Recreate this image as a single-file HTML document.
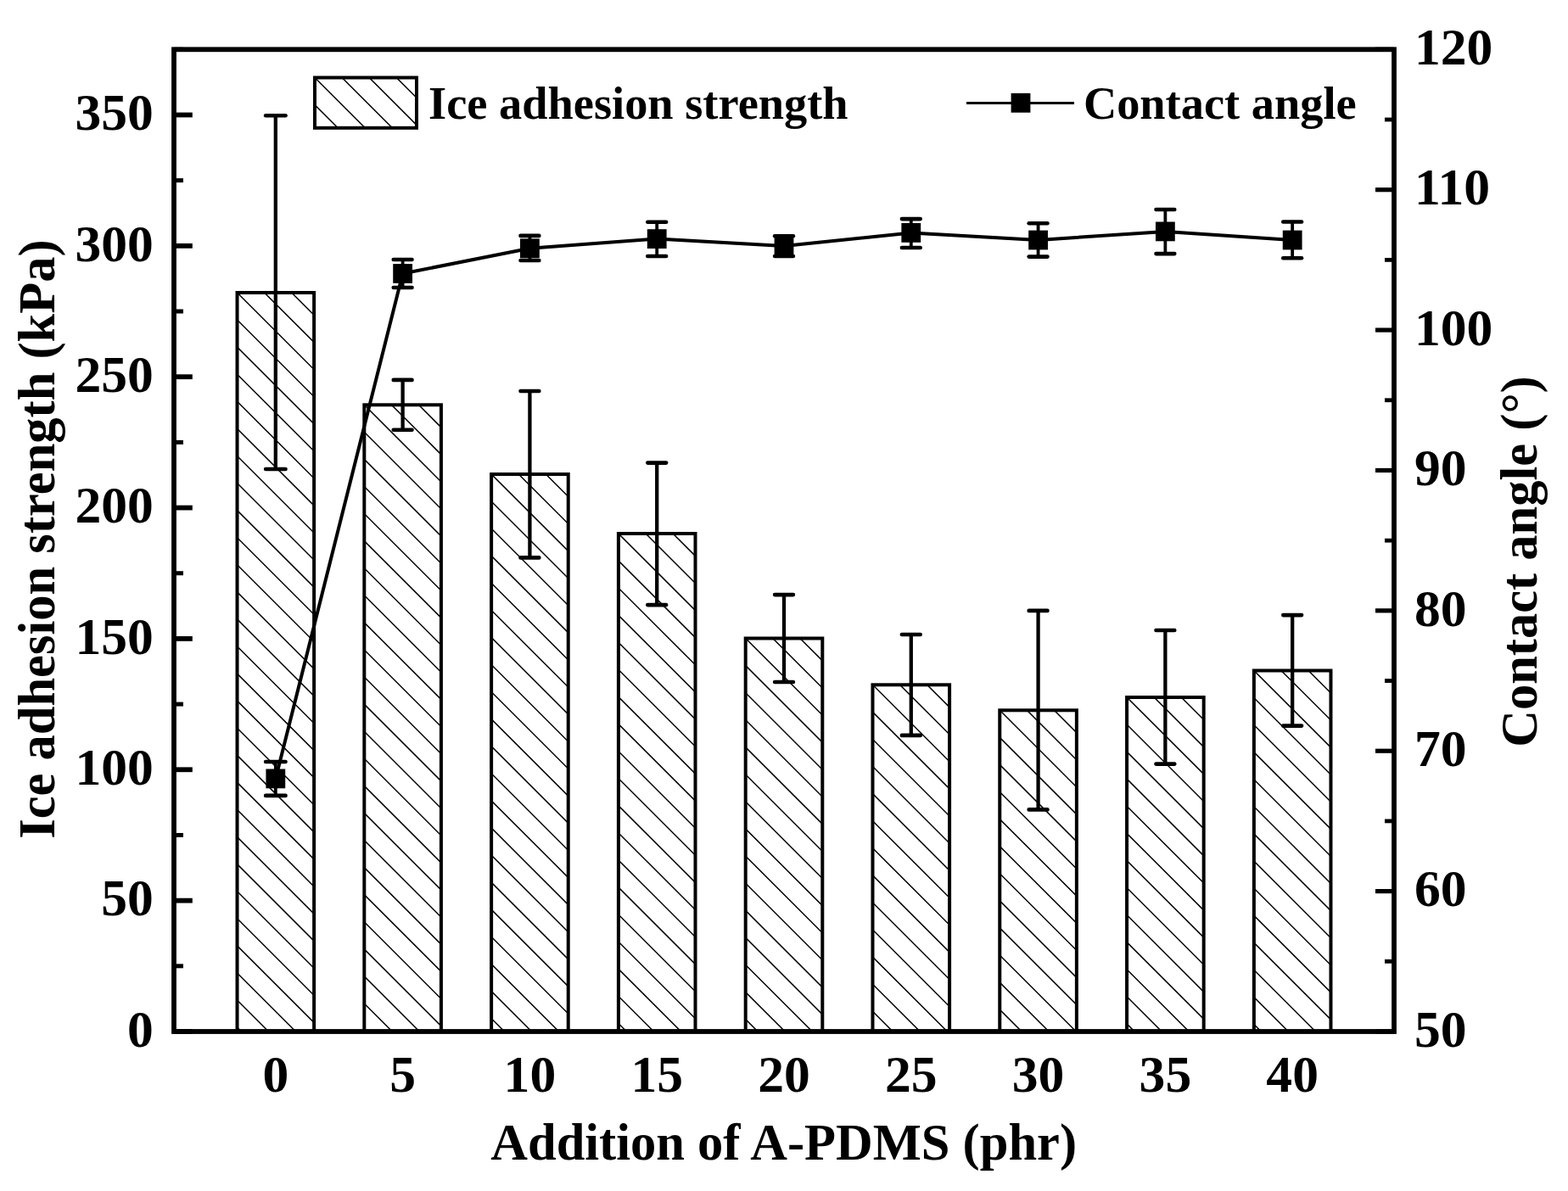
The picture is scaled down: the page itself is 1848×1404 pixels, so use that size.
<!DOCTYPE html>
<html><head><meta charset="utf-8"><title>Ice adhesion strength and contact angle</title>
<style>html,body{margin:0;padding:0;background:#fff;}svg{display:block;}</style></head>
<body>
<svg width="1848" height="1404" viewBox="0 0 1848 1404">
<rect x="0" y="0" width="1848" height="1404" fill="#fff"/>
<clipPath id="c0"><rect x="279.53" y="345.00" width="90.60" height="871.00"/></clipPath><path clip-path="url(#c0)" d="M274.53 211.68L375.13 312.28M274.53 243.76L375.13 344.36M274.53 275.84L375.13 376.44M274.53 307.92L375.13 408.52M274.53 340.00L375.13 440.60M274.53 372.08L375.13 472.68M274.53 404.16L375.13 504.76M274.53 436.24L375.13 536.84M274.53 468.32L375.13 568.92M274.53 500.40L375.13 601.00M274.53 532.48L375.13 633.08M274.53 564.56L375.13 665.16M274.53 596.64L375.13 697.24M274.53 628.72L375.13 729.32M274.53 660.80L375.13 761.40M274.53 692.88L375.13 793.48M274.53 724.96L375.13 825.56M274.53 757.04L375.13 857.64M274.53 789.12L375.13 889.72M274.53 821.20L375.13 921.80M274.53 853.28L375.13 953.88M274.53 885.36L375.13 985.96M274.53 917.44L375.13 1018.04M274.53 949.52L375.13 1050.12M274.53 981.60L375.13 1082.20M274.53 1013.68L375.13 1114.28M274.53 1045.76L375.13 1146.36M274.53 1077.84L375.13 1178.44M274.53 1109.92L375.13 1210.52M274.53 1142.00L375.13 1242.60M274.53 1174.08L375.13 1274.68M274.53 1206.16L375.13 1306.76M274.53 1238.24L375.13 1338.84M274.53 1270.32L375.13 1370.92" stroke="#000" stroke-width="1.5" fill="none"/>
<rect x="279.53" y="345.00" width="90.60" height="871.00" fill="none" stroke="#000" stroke-width="4.0"/>
<clipPath id="c1"><rect x="429.32" y="477.30" width="90.60" height="738.70"/></clipPath><path clip-path="url(#c1)" d="M424.32 343.98L524.92 444.58M424.32 376.06L524.92 476.66M424.32 408.14L524.92 508.74M424.32 440.22L524.92 540.82M424.32 472.30L524.92 572.90M424.32 504.38L524.92 604.98M424.32 536.46L524.92 637.06M424.32 568.54L524.92 669.14M424.32 600.62L524.92 701.22M424.32 632.70L524.92 733.30M424.32 664.78L524.92 765.38M424.32 696.86L524.92 797.46M424.32 728.94L524.92 829.54M424.32 761.02L524.92 861.62M424.32 793.10L524.92 893.70M424.32 825.18L524.92 925.78M424.32 857.26L524.92 957.86M424.32 889.34L524.92 989.94M424.32 921.42L524.92 1022.02M424.32 953.50L524.92 1054.10M424.32 985.58L524.92 1086.18M424.32 1017.66L524.92 1118.26M424.32 1049.74L524.92 1150.34M424.32 1081.82L524.92 1182.42M424.32 1113.90L524.92 1214.50M424.32 1145.98L524.92 1246.58M424.32 1178.06L524.92 1278.66M424.32 1210.14L524.92 1310.74M424.32 1242.22L524.92 1342.82M424.32 1274.30L524.92 1374.90" stroke="#000" stroke-width="1.5" fill="none"/>
<rect x="429.32" y="477.30" width="90.60" height="738.70" fill="none" stroke="#000" stroke-width="4.0"/>
<clipPath id="c2"><rect x="579.12" y="559.00" width="90.60" height="657.00"/></clipPath><path clip-path="url(#c2)" d="M574.12 425.68L674.72 526.28M574.12 457.76L674.72 558.36M574.12 489.84L674.72 590.44M574.12 521.92L674.72 622.52M574.12 554.00L674.72 654.60M574.12 586.08L674.72 686.68M574.12 618.16L674.72 718.76M574.12 650.24L674.72 750.84M574.12 682.32L674.72 782.92M574.12 714.40L674.72 815.00M574.12 746.48L674.72 847.08M574.12 778.56L674.72 879.16M574.12 810.64L674.72 911.24M574.12 842.72L674.72 943.32M574.12 874.80L674.72 975.40M574.12 906.88L674.72 1007.48M574.12 938.96L674.72 1039.56M574.12 971.04L674.72 1071.64M574.12 1003.12L674.72 1103.72M574.12 1035.20L674.72 1135.80M574.12 1067.28L674.72 1167.88M574.12 1099.36L674.72 1199.96M574.12 1131.44L674.72 1232.04M574.12 1163.52L674.72 1264.12M574.12 1195.60L674.72 1296.20M574.12 1227.68L674.72 1328.28M574.12 1259.76L674.72 1360.36" stroke="#000" stroke-width="1.5" fill="none"/>
<rect x="579.12" y="559.00" width="90.60" height="657.00" fill="none" stroke="#000" stroke-width="4.0"/>
<clipPath id="c3"><rect x="728.91" y="629.00" width="90.60" height="587.00"/></clipPath><path clip-path="url(#c3)" d="M723.91 495.68L824.51 596.28M723.91 527.76L824.51 628.36M723.91 559.84L824.51 660.44M723.91 591.92L824.51 692.52M723.91 624.00L824.51 724.60M723.91 656.08L824.51 756.68M723.91 688.16L824.51 788.76M723.91 720.24L824.51 820.84M723.91 752.32L824.51 852.92M723.91 784.40L824.51 885.00M723.91 816.48L824.51 917.08M723.91 848.56L824.51 949.16M723.91 880.64L824.51 981.24M723.91 912.72L824.51 1013.32M723.91 944.80L824.51 1045.40M723.91 976.88L824.51 1077.48M723.91 1008.96L824.51 1109.56M723.91 1041.04L824.51 1141.64M723.91 1073.12L824.51 1173.72M723.91 1105.20L824.51 1205.80M723.91 1137.28L824.51 1237.88M723.91 1169.36L824.51 1269.96M723.91 1201.44L824.51 1302.04M723.91 1233.52L824.51 1334.12M723.91 1265.60L824.51 1366.20" stroke="#000" stroke-width="1.5" fill="none"/>
<rect x="728.91" y="629.00" width="90.60" height="587.00" fill="none" stroke="#000" stroke-width="4.0"/>
<clipPath id="c4"><rect x="878.70" y="752.50" width="90.60" height="463.50"/></clipPath><path clip-path="url(#c4)" d="M873.70 619.18L974.30 719.78M873.70 651.26L974.30 751.86M873.70 683.34L974.30 783.94M873.70 715.42L974.30 816.02M873.70 747.50L974.30 848.10M873.70 779.58L974.30 880.18M873.70 811.66L974.30 912.26M873.70 843.74L974.30 944.34M873.70 875.82L974.30 976.42M873.70 907.90L974.30 1008.50M873.70 939.98L974.30 1040.58M873.70 972.06L974.30 1072.66M873.70 1004.14L974.30 1104.74M873.70 1036.22L974.30 1136.82M873.70 1068.30L974.30 1168.90M873.70 1100.38L974.30 1200.98M873.70 1132.46L974.30 1233.06M873.70 1164.54L974.30 1265.14M873.70 1196.62L974.30 1297.22M873.70 1228.70L974.30 1329.30M873.70 1260.78L974.30 1361.38" stroke="#000" stroke-width="1.5" fill="none"/>
<rect x="878.70" y="752.50" width="90.60" height="463.50" fill="none" stroke="#000" stroke-width="4.0"/>
<clipPath id="c5"><rect x="1028.49" y="807.30" width="90.60" height="408.70"/></clipPath><path clip-path="url(#c5)" d="M1023.49 673.98L1124.09 774.58M1023.49 706.06L1124.09 806.66M1023.49 738.14L1124.09 838.74M1023.49 770.22L1124.09 870.82M1023.49 802.30L1124.09 902.90M1023.49 834.38L1124.09 934.98M1023.49 866.46L1124.09 967.06M1023.49 898.54L1124.09 999.14M1023.49 930.62L1124.09 1031.22M1023.49 962.70L1124.09 1063.30M1023.49 994.78L1124.09 1095.38M1023.49 1026.86L1124.09 1127.46M1023.49 1058.94L1124.09 1159.54M1023.49 1091.02L1124.09 1191.62M1023.49 1123.10L1124.09 1223.70M1023.49 1155.18L1124.09 1255.78M1023.49 1187.26L1124.09 1287.86M1023.49 1219.34L1124.09 1319.94M1023.49 1251.42L1124.09 1352.02" stroke="#000" stroke-width="1.5" fill="none"/>
<rect x="1028.49" y="807.30" width="90.60" height="408.70" fill="none" stroke="#000" stroke-width="4.0"/>
<clipPath id="c6"><rect x="1178.28" y="837.30" width="90.60" height="378.70"/></clipPath><path clip-path="url(#c6)" d="M1173.28 703.98L1273.88 804.58M1173.28 736.06L1273.88 836.66M1173.28 768.14L1273.88 868.74M1173.28 800.22L1273.88 900.82M1173.28 832.30L1273.88 932.90M1173.28 864.38L1273.88 964.98M1173.28 896.46L1273.88 997.06M1173.28 928.54L1273.88 1029.14M1173.28 960.62L1273.88 1061.22M1173.28 992.70L1273.88 1093.30M1173.28 1024.78L1273.88 1125.38M1173.28 1056.86L1273.88 1157.46M1173.28 1088.94L1273.88 1189.54M1173.28 1121.02L1273.88 1221.62M1173.28 1153.10L1273.88 1253.70M1173.28 1185.18L1273.88 1285.78M1173.28 1217.26L1273.88 1317.86M1173.28 1249.34L1273.88 1349.94" stroke="#000" stroke-width="1.5" fill="none"/>
<rect x="1178.28" y="837.30" width="90.60" height="378.70" fill="none" stroke="#000" stroke-width="4.0"/>
<clipPath id="c7"><rect x="1328.08" y="822.00" width="90.60" height="394.00"/></clipPath><path clip-path="url(#c7)" d="M1323.08 688.68L1423.67 789.28M1323.08 720.76L1423.67 821.36M1323.08 752.84L1423.67 853.44M1323.08 784.92L1423.67 885.52M1323.08 817.00L1423.67 917.60M1323.08 849.08L1423.67 949.68M1323.08 881.16L1423.67 981.76M1323.08 913.24L1423.67 1013.84M1323.08 945.32L1423.67 1045.92M1323.08 977.40L1423.67 1078.00M1323.08 1009.48L1423.67 1110.08M1323.08 1041.56L1423.67 1142.16M1323.08 1073.64L1423.67 1174.24M1323.08 1105.72L1423.67 1206.32M1323.08 1137.80L1423.67 1238.40M1323.08 1169.88L1423.67 1270.48M1323.08 1201.96L1423.67 1302.56M1323.08 1234.04L1423.67 1334.64M1323.08 1266.12L1423.67 1366.72" stroke="#000" stroke-width="1.5" fill="none"/>
<rect x="1328.08" y="822.00" width="90.60" height="394.00" fill="none" stroke="#000" stroke-width="4.0"/>
<clipPath id="c8"><rect x="1477.87" y="790.50" width="90.60" height="425.50"/></clipPath><path clip-path="url(#c8)" d="M1472.87 657.18L1573.47 757.78M1472.87 689.26L1573.47 789.86M1472.87 721.34L1573.47 821.94M1472.87 753.42L1573.47 854.02M1472.87 785.50L1573.47 886.10M1472.87 817.58L1573.47 918.18M1472.87 849.66L1573.47 950.26M1472.87 881.74L1573.47 982.34M1472.87 913.82L1573.47 1014.42M1472.87 945.90L1573.47 1046.50M1472.87 977.98L1573.47 1078.58M1472.87 1010.06L1573.47 1110.66M1472.87 1042.14L1573.47 1142.74M1472.87 1074.22L1573.47 1174.82M1472.87 1106.30L1573.47 1206.90M1472.87 1138.38L1573.47 1238.98M1472.87 1170.46L1573.47 1271.06M1472.87 1202.54L1573.47 1303.14M1472.87 1234.62L1573.47 1335.22M1472.87 1266.70L1573.47 1367.30" stroke="#000" stroke-width="1.5" fill="none"/>
<rect x="1477.87" y="790.50" width="90.60" height="425.50" fill="none" stroke="#000" stroke-width="4.0"/>
<line x1="324.83" y1="136.30" x2="324.83" y2="553.00" stroke="#000" stroke-width="4.3"/>
<line x1="313.13" y1="136.30" x2="336.53" y2="136.30" stroke="#000" stroke-width="4.6" stroke-linecap="round"/>
<line x1="313.13" y1="553.00" x2="336.53" y2="553.00" stroke="#000" stroke-width="4.6" stroke-linecap="round"/>
<line x1="474.62" y1="447.90" x2="474.62" y2="506.80" stroke="#000" stroke-width="4.3"/>
<line x1="463.73" y1="447.90" x2="485.52" y2="447.90" stroke="#000" stroke-width="4.6" stroke-linecap="round"/>
<line x1="463.73" y1="506.80" x2="485.52" y2="506.80" stroke="#000" stroke-width="4.6" stroke-linecap="round"/>
<line x1="624.42" y1="461.00" x2="624.42" y2="657.40" stroke="#000" stroke-width="4.3"/>
<line x1="613.52" y1="461.00" x2="635.32" y2="461.00" stroke="#000" stroke-width="4.6" stroke-linecap="round"/>
<line x1="613.52" y1="657.40" x2="635.32" y2="657.40" stroke="#000" stroke-width="4.6" stroke-linecap="round"/>
<line x1="774.21" y1="545.60" x2="774.21" y2="713.10" stroke="#000" stroke-width="4.3"/>
<line x1="763.31" y1="545.60" x2="785.11" y2="545.60" stroke="#000" stroke-width="4.6" stroke-linecap="round"/>
<line x1="763.31" y1="713.10" x2="785.11" y2="713.10" stroke="#000" stroke-width="4.6" stroke-linecap="round"/>
<line x1="924.00" y1="701.10" x2="924.00" y2="804.00" stroke="#000" stroke-width="4.3"/>
<line x1="913.10" y1="701.10" x2="934.90" y2="701.10" stroke="#000" stroke-width="4.6" stroke-linecap="round"/>
<line x1="913.10" y1="804.00" x2="934.90" y2="804.00" stroke="#000" stroke-width="4.6" stroke-linecap="round"/>
<line x1="1073.79" y1="748.00" x2="1073.79" y2="866.90" stroke="#000" stroke-width="4.3"/>
<line x1="1062.89" y1="748.00" x2="1084.69" y2="748.00" stroke="#000" stroke-width="4.6" stroke-linecap="round"/>
<line x1="1062.89" y1="866.90" x2="1084.69" y2="866.90" stroke="#000" stroke-width="4.6" stroke-linecap="round"/>
<line x1="1223.58" y1="719.90" x2="1223.58" y2="954.40" stroke="#000" stroke-width="4.3"/>
<line x1="1212.68" y1="719.90" x2="1234.48" y2="719.90" stroke="#000" stroke-width="4.6" stroke-linecap="round"/>
<line x1="1212.68" y1="954.40" x2="1234.48" y2="954.40" stroke="#000" stroke-width="4.6" stroke-linecap="round"/>
<line x1="1373.38" y1="743.00" x2="1373.38" y2="900.60" stroke="#000" stroke-width="4.3"/>
<line x1="1362.47" y1="743.00" x2="1384.28" y2="743.00" stroke="#000" stroke-width="4.6" stroke-linecap="round"/>
<line x1="1362.47" y1="900.60" x2="1384.28" y2="900.60" stroke="#000" stroke-width="4.6" stroke-linecap="round"/>
<line x1="1523.17" y1="725.10" x2="1523.17" y2="855.60" stroke="#000" stroke-width="4.3"/>
<line x1="1512.27" y1="725.10" x2="1534.07" y2="725.10" stroke="#000" stroke-width="4.6" stroke-linecap="round"/>
<line x1="1512.27" y1="855.60" x2="1534.07" y2="855.60" stroke="#000" stroke-width="4.6" stroke-linecap="round"/>
<polyline points="324.83,917.90 474.62,322.50 624.42,292.80 774.21,281.60 924.00,290.00 1073.79,274.40 1223.58,283.00 1373.38,272.90 1523.17,283.00" fill="none" stroke="#000" stroke-width="4" stroke-linejoin="round"/>
<line x1="324.83" y1="898.00" x2="324.83" y2="937.90" stroke="#000" stroke-width="3.8"/>
<line x1="313.13" y1="898.00" x2="336.53" y2="898.00" stroke="#000" stroke-width="4.6" stroke-linecap="round"/>
<line x1="313.13" y1="937.90" x2="336.53" y2="937.90" stroke="#000" stroke-width="4.6" stroke-linecap="round"/>
<line x1="474.62" y1="306.00" x2="474.62" y2="339.00" stroke="#000" stroke-width="3.8"/>
<line x1="463.73" y1="306.00" x2="485.52" y2="306.00" stroke="#000" stroke-width="4.6" stroke-linecap="round"/>
<line x1="463.73" y1="339.00" x2="485.52" y2="339.00" stroke="#000" stroke-width="4.6" stroke-linecap="round"/>
<line x1="624.42" y1="277.90" x2="624.42" y2="307.00" stroke="#000" stroke-width="3.8"/>
<line x1="613.52" y1="277.90" x2="635.32" y2="277.90" stroke="#000" stroke-width="4.6" stroke-linecap="round"/>
<line x1="613.52" y1="307.00" x2="635.32" y2="307.00" stroke="#000" stroke-width="4.6" stroke-linecap="round"/>
<line x1="774.21" y1="261.80" x2="774.21" y2="302.00" stroke="#000" stroke-width="3.8"/>
<line x1="763.31" y1="261.80" x2="785.11" y2="261.80" stroke="#000" stroke-width="4.6" stroke-linecap="round"/>
<line x1="763.31" y1="302.00" x2="785.11" y2="302.00" stroke="#000" stroke-width="4.6" stroke-linecap="round"/>
<line x1="924.00" y1="278.20" x2="924.00" y2="302.00" stroke="#000" stroke-width="3.8"/>
<line x1="913.10" y1="278.20" x2="934.90" y2="278.20" stroke="#000" stroke-width="4.6" stroke-linecap="round"/>
<line x1="913.10" y1="302.00" x2="934.90" y2="302.00" stroke="#000" stroke-width="4.6" stroke-linecap="round"/>
<line x1="1073.79" y1="258.10" x2="1073.79" y2="292.00" stroke="#000" stroke-width="3.8"/>
<line x1="1062.89" y1="258.10" x2="1084.69" y2="258.10" stroke="#000" stroke-width="4.6" stroke-linecap="round"/>
<line x1="1062.89" y1="292.00" x2="1084.69" y2="292.00" stroke="#000" stroke-width="4.6" stroke-linecap="round"/>
<line x1="1223.58" y1="263.30" x2="1223.58" y2="302.60" stroke="#000" stroke-width="3.8"/>
<line x1="1212.68" y1="263.30" x2="1234.48" y2="263.30" stroke="#000" stroke-width="4.6" stroke-linecap="round"/>
<line x1="1212.68" y1="302.60" x2="1234.48" y2="302.60" stroke="#000" stroke-width="4.6" stroke-linecap="round"/>
<line x1="1373.38" y1="247.00" x2="1373.38" y2="299.10" stroke="#000" stroke-width="3.8"/>
<line x1="1362.47" y1="247.00" x2="1384.28" y2="247.00" stroke="#000" stroke-width="4.6" stroke-linecap="round"/>
<line x1="1362.47" y1="299.10" x2="1384.28" y2="299.10" stroke="#000" stroke-width="4.6" stroke-linecap="round"/>
<line x1="1523.17" y1="261.50" x2="1523.17" y2="304.30" stroke="#000" stroke-width="3.8"/>
<line x1="1512.27" y1="261.50" x2="1534.07" y2="261.50" stroke="#000" stroke-width="4.6" stroke-linecap="round"/>
<line x1="1512.27" y1="304.30" x2="1534.07" y2="304.30" stroke="#000" stroke-width="4.6" stroke-linecap="round"/>
<rect x="313.43" y="906.50" width="22.8" height="22.8" fill="#000"/>
<rect x="463.23" y="311.10" width="22.8" height="22.8" fill="#000"/>
<rect x="613.02" y="281.40" width="22.8" height="22.8" fill="#000"/>
<rect x="762.81" y="270.20" width="22.8" height="22.8" fill="#000"/>
<rect x="912.60" y="278.60" width="22.8" height="22.8" fill="#000"/>
<rect x="1062.39" y="263.00" width="22.8" height="22.8" fill="#000"/>
<rect x="1212.18" y="271.60" width="22.8" height="22.8" fill="#000"/>
<rect x="1361.97" y="261.50" width="22.8" height="22.8" fill="#000"/>
<rect x="1511.77" y="271.60" width="22.8" height="22.8" fill="#000"/>
<rect x="205.0" y="58.3" width="1438.0" height="1157.7" fill="none" stroke="#000" stroke-width="5.8"/>
<line x1="205.0" y1="1216.00" x2="226.8" y2="1216.00" stroke="#000" stroke-width="5.8"/>
<line x1="205.0" y1="1138.82" x2="216" y2="1138.82" stroke="#000" stroke-width="5"/>
<line x1="205.0" y1="1061.64" x2="226.8" y2="1061.64" stroke="#000" stroke-width="5.8"/>
<line x1="205.0" y1="984.46" x2="216" y2="984.46" stroke="#000" stroke-width="5"/>
<line x1="205.0" y1="907.28" x2="226.8" y2="907.28" stroke="#000" stroke-width="5.8"/>
<line x1="205.0" y1="830.10" x2="216" y2="830.10" stroke="#000" stroke-width="5"/>
<line x1="205.0" y1="752.92" x2="226.8" y2="752.92" stroke="#000" stroke-width="5.8"/>
<line x1="205.0" y1="675.74" x2="216" y2="675.74" stroke="#000" stroke-width="5"/>
<line x1="205.0" y1="598.56" x2="226.8" y2="598.56" stroke="#000" stroke-width="5.8"/>
<line x1="205.0" y1="521.38" x2="216" y2="521.38" stroke="#000" stroke-width="5"/>
<line x1="205.0" y1="444.20" x2="226.8" y2="444.20" stroke="#000" stroke-width="5.8"/>
<line x1="205.0" y1="367.02" x2="216" y2="367.02" stroke="#000" stroke-width="5"/>
<line x1="205.0" y1="289.84" x2="226.8" y2="289.84" stroke="#000" stroke-width="5.8"/>
<line x1="205.0" y1="212.66" x2="216" y2="212.66" stroke="#000" stroke-width="5"/>
<line x1="205.0" y1="135.48" x2="226.8" y2="135.48" stroke="#000" stroke-width="5.8"/>
<line x1="205.0" y1="58.30" x2="216" y2="58.30" stroke="#000" stroke-width="5"/>
<line x1="1643.0" y1="1216.00" x2="1621" y2="1216.00" stroke="#000" stroke-width="5.2"/>
<line x1="1643.0" y1="1133.31" x2="1632" y2="1133.31" stroke="#000" stroke-width="4.8"/>
<line x1="1643.0" y1="1050.61" x2="1621" y2="1050.61" stroke="#000" stroke-width="5.2"/>
<line x1="1643.0" y1="967.92" x2="1632" y2="967.92" stroke="#000" stroke-width="4.8"/>
<line x1="1643.0" y1="885.23" x2="1621" y2="885.23" stroke="#000" stroke-width="5.2"/>
<line x1="1643.0" y1="802.54" x2="1632" y2="802.54" stroke="#000" stroke-width="4.8"/>
<line x1="1643.0" y1="719.84" x2="1621" y2="719.84" stroke="#000" stroke-width="5.2"/>
<line x1="1643.0" y1="637.15" x2="1632" y2="637.15" stroke="#000" stroke-width="4.8"/>
<line x1="1643.0" y1="554.46" x2="1621" y2="554.46" stroke="#000" stroke-width="5.2"/>
<line x1="1643.0" y1="471.76" x2="1632" y2="471.76" stroke="#000" stroke-width="4.8"/>
<line x1="1643.0" y1="389.07" x2="1621" y2="389.07" stroke="#000" stroke-width="5.2"/>
<line x1="1643.0" y1="306.38" x2="1632" y2="306.38" stroke="#000" stroke-width="4.8"/>
<line x1="1643.0" y1="223.69" x2="1621" y2="223.69" stroke="#000" stroke-width="5.2"/>
<line x1="1643.0" y1="140.99" x2="1632" y2="140.99" stroke="#000" stroke-width="4.8"/>
<line x1="1643.0" y1="58.30" x2="1621" y2="58.30" stroke="#000" stroke-width="5.2"/>
<text x="180.8" y="1233.80" text-anchor="end" style="font-family:'Liberation Serif','Times New Roman',serif;font-weight:bold;font-size:61.6px">0</text>
<text x="180.8" y="1079.44" text-anchor="end" style="font-family:'Liberation Serif','Times New Roman',serif;font-weight:bold;font-size:61.6px">50</text>
<text x="180.8" y="925.08" text-anchor="end" style="font-family:'Liberation Serif','Times New Roman',serif;font-weight:bold;font-size:61.6px">100</text>
<text x="180.8" y="770.72" text-anchor="end" style="font-family:'Liberation Serif','Times New Roman',serif;font-weight:bold;font-size:61.6px">150</text>
<text x="180.8" y="616.36" text-anchor="end" style="font-family:'Liberation Serif','Times New Roman',serif;font-weight:bold;font-size:61.6px">200</text>
<text x="180.8" y="462.00" text-anchor="end" style="font-family:'Liberation Serif','Times New Roman',serif;font-weight:bold;font-size:61.6px">250</text>
<text x="180.8" y="307.64" text-anchor="end" style="font-family:'Liberation Serif','Times New Roman',serif;font-weight:bold;font-size:61.6px">300</text>
<text x="180.8" y="153.28" text-anchor="end" style="font-family:'Liberation Serif','Times New Roman',serif;font-weight:bold;font-size:61.6px">350</text>
<text x="1667" y="1233.80" style="font-family:'Liberation Serif','Times New Roman',serif;font-weight:bold;font-size:61.6px">50</text>
<text x="1667" y="1068.41" style="font-family:'Liberation Serif','Times New Roman',serif;font-weight:bold;font-size:61.6px">60</text>
<text x="1667" y="903.03" style="font-family:'Liberation Serif','Times New Roman',serif;font-weight:bold;font-size:61.6px">70</text>
<text x="1667" y="737.64" style="font-family:'Liberation Serif','Times New Roman',serif;font-weight:bold;font-size:61.6px">80</text>
<text x="1667" y="572.26" style="font-family:'Liberation Serif','Times New Roman',serif;font-weight:bold;font-size:61.6px">90</text>
<text x="1667" y="406.87" style="font-family:'Liberation Serif','Times New Roman',serif;font-weight:bold;font-size:61.6px">100</text>
<text x="1667" y="241.49" style="font-family:'Liberation Serif','Times New Roman',serif;font-weight:bold;font-size:61.6px">110</text>
<text x="1667" y="76.10" style="font-family:'Liberation Serif','Times New Roman',serif;font-weight:bold;font-size:61.6px">120</text>
<text x="324.83" y="1286.9" text-anchor="middle" style="font-family:'Liberation Serif','Times New Roman',serif;font-weight:bold;font-size:61.6px">0</text>
<text x="474.62" y="1286.9" text-anchor="middle" style="font-family:'Liberation Serif','Times New Roman',serif;font-weight:bold;font-size:61.6px">5</text>
<text x="624.42" y="1286.9" text-anchor="middle" style="font-family:'Liberation Serif','Times New Roman',serif;font-weight:bold;font-size:61.6px">10</text>
<text x="774.21" y="1286.9" text-anchor="middle" style="font-family:'Liberation Serif','Times New Roman',serif;font-weight:bold;font-size:61.6px">15</text>
<text x="924.00" y="1286.9" text-anchor="middle" style="font-family:'Liberation Serif','Times New Roman',serif;font-weight:bold;font-size:61.6px">20</text>
<text x="1073.79" y="1286.9" text-anchor="middle" style="font-family:'Liberation Serif','Times New Roman',serif;font-weight:bold;font-size:61.6px">25</text>
<text x="1223.58" y="1286.9" text-anchor="middle" style="font-family:'Liberation Serif','Times New Roman',serif;font-weight:bold;font-size:61.6px">30</text>
<text x="1373.38" y="1286.9" text-anchor="middle" style="font-family:'Liberation Serif','Times New Roman',serif;font-weight:bold;font-size:61.6px">35</text>
<text x="1523.17" y="1286.9" text-anchor="middle" style="font-family:'Liberation Serif','Times New Roman',serif;font-weight:bold;font-size:61.6px">40</text>
<text x="578.3" y="1366.8" style="font-family:'Liberation Serif','Times New Roman',serif;font-weight:bold;font-size:60.5px">Addition of A-PDMS (phr)</text>
<text transform="translate(63.7,988.8) rotate(-90)" x="0" y="0" style="font-family:'Liberation Serif','Times New Roman',serif;font-weight:bold;font-size:60.5px">Ice adhesion strength (kPa)</text>
<text transform="translate(1810.5,880.8) rotate(-90)" x="0" y="0" style="font-family:'Liberation Serif','Times New Roman',serif;font-weight:bold;font-size:60.5px">Contact angle (°)</text>
<clipPath id="cl"><rect x="371.00" y="91.50" width="120.00" height="59.30"/></clipPath><path clip-path="url(#cl)" d="M366.00 -73.90L496.00 56.10M366.00 -41.82L496.00 88.18M366.00 -9.74L496.00 120.26M366.00 22.34L496.00 152.34M366.00 54.42L496.00 184.42M366.00 86.50L496.00 216.50M366.00 118.58L496.00 248.58M366.00 150.66L496.00 280.66M366.00 182.74L496.00 312.74" stroke="#000" stroke-width="1.5" fill="none"/>
<rect x="371" y="91.5" width="120" height="59.30000000000001" fill="none" stroke="#000" stroke-width="4"/>
<text x="505" y="139.5" style="font-family:'Liberation Serif','Times New Roman',serif;font-weight:bold;font-size:54.4px">Ice adhesion strength</text>
<line x1="1139" y1="121.5" x2="1266" y2="121.5" stroke="#000" stroke-width="3.2"/>
<rect x="1191.60" y="109.90" width="22.8" height="22.8" fill="#000"/>
<text x="1276.9" y="139.9" style="font-family:'Liberation Serif','Times New Roman',serif;font-weight:bold;font-size:54.4px">Contact angle</text>
</svg>
</body></html>
